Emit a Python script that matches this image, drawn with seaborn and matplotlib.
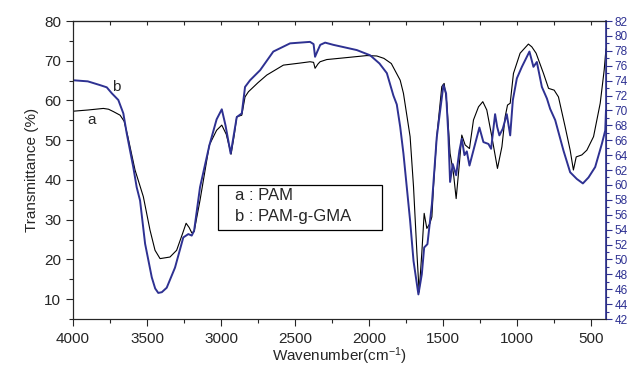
import matplotlib
matplotlib.use('Agg')
import matplotlib.pyplot as plt
import numpy as np
import pandas as pd
import seaborn as sns
from matplotlib.patches import Rectangle
from matplotlib.ticker import MultipleLocator

# data
# curve a: PAM (left axis)
wn_a = [4000, 3900, 3795, 3760, 3727, 3682, 3655, 3630, 3581, 3525, 3480, 3446,
        3412, 3345, 3300, 3260, 3236, 3215, 3198, 3182, 3142, 3079, 3030, 2995,
        2965, 2932, 2910, 2894, 2860, 2838, 2815, 2750, 2691, 2579, 2470, 2399,
        2375, 2365, 2345, 2331, 2286, 2150, 2016, 1948, 1900, 1850, 1790, 1768,
        1723, 1700, 1677, 1662, 1644, 1628, 1610, 1590, 1576, 1565, 1543, 1509,
        1493, 1475, 1453, 1430, 1412, 1390, 1374, 1351, 1322, 1295, 1261, 1232,
        1205, 1171, 1133, 1103, 1081, 1065, 1047, 1025, 980, 924, 901, 872, 822,
        788, 750, 721, 676, 642, 620, 601, 563, 529, 484, 439, 412, 400]
t_a = [57.3, 57.6, 58.0, 57.8, 57.2, 56.3, 54.8, 51.0, 42.5, 35.8, 27.4, 22.3,
       20.2, 20.6, 22.3, 26.5, 29.1, 28.0, 26.7, 27.0, 34.9, 48.8, 52.5, 53.8,
       51.5, 46.5, 51.5, 55.9, 56.3, 60.9, 62.2, 64.5, 66.4, 68.9, 69.4, 69.75,
       69.6, 68.1, 69.2, 69.75, 70.3, 70.8, 71.3, 71.2, 70.6, 69.3, 65.1, 61.8,
       50.9, 38.3, 21.6, 11.8, 21.6, 31.6, 27.8, 29.0, 30.7, 38.3, 50.9, 63.5,
       64.3, 59.3, 46.7, 41.6, 35.3, 44.2, 51.3, 48.8, 47.9, 55.1, 58.4, 59.7,
       57.6, 50.9, 42.9, 48.35, 55.9, 58.85, 59.3, 66.8, 71.9, 74.2, 73.5, 71.9, 66.8,
       63.05, 62.6, 60.9, 53.4, 47.5, 42.5, 45.8, 46.3, 47.5, 50.9, 59.3, 67.7, 73.0]

# curve b: PAM-g-GMA (right axis)
wn_b = [4000, 3900, 3818, 3772, 3738, 3694, 3660, 3637, 3593, 3570, 3547, 3513,
        3468, 3445, 3424, 3400, 3367, 3311, 3255, 3221, 3198, 3182, 3142, 3079,
        3030, 2995, 2970, 2935, 2894, 2860, 2838, 2804, 2736, 2647, 2534, 2399,
        2375, 2365, 2350, 2330, 2297, 2241, 2083, 1993, 1930, 1880, 1836, 1813,
        1790, 1768, 1723, 1700, 1667, 1644, 1628, 1606, 1576, 1543, 1498, 1480,
        1464, 1453, 1435, 1412, 1390, 1374, 1356, 1340, 1322, 1284, 1255, 1228,
        1194, 1176, 1149, 1135, 1120, 1097, 1070, 1047, 1029, 1002, 968, 917, 890,
        867, 833, 799, 777, 743, 687, 642, 597, 556, 518, 473, 428, 405, 400]
t_b = [74.05, 73.9, 73.4, 73.1, 72.3, 71.4, 69.6, 66.9, 62.4, 59.7, 57.9, 52.1,
       47.6, 46.1, 45.5, 45.6, 46.2, 48.9, 52.95, 53.4, 53.2, 53.85, 59.7, 65.3,
       68.8, 70.15, 68.0, 64.2, 69.1, 69.6, 73.15, 74.05, 75.4, 77.9, 79.0, 79.2,
       78.9, 77.2, 77.9, 78.8, 79.1, 78.8, 78.1, 77.4, 76.3, 75.0, 72.0, 70.8,
       67.8, 64.2, 55.2, 49.8, 45.3, 48.0, 51.6, 52.05, 57.4, 66.4, 73.4, 72.3,
       66.4, 60.4, 62.8, 61.3, 64.6, 66.2, 64.0, 64.5, 62.6, 65.5, 67.7, 65.75,
       65.5, 64.85, 69.5, 67.8, 66.65, 67.55, 69.5, 66.65, 71.4, 74.3, 75.85, 77.9, 75.85,
       76.5, 73.15, 71.6, 70.2, 68.7, 64.6, 61.7, 60.8, 60.2, 61.0, 62.4, 65.5, 67.3, 70.0]

legend_lines = ['a : PAM', 'b : PAM-g-GMA']

df_a = pd.DataFrame({'Wavenumber': wn_a, 'T': t_a})
df_b = pd.DataFrame({'Wavenumber': wn_b, 'T': t_b})

sns.set_style('ticks')
plt.rcParams['font.family'] = ['Liberation Sans', 'DejaVu Sans']
plt.rcParams['mathtext.fontset'] = 'custom'
plt.rcParams['mathtext.rm'] = 'Liberation Sans'
plt.rcParams['mathtext.it'] = 'Liberation Sans'

blue = '#2e3192'

fig = plt.figure(figsize=(6.37, 3.70), dpi=100)
ax = fig.add_axes([0.1146, 0.1378, 0.8367, 0.8054])
ax2 = ax.twinx()

sns.lineplot(data=df_a, x='Wavenumber', y='T', ax=ax, color='black', lw=0.8, estimator=None)
sns.lineplot(data=df_b, x='Wavenumber', y='T', ax=ax2, color=blue, lw=1.4, estimator=None)

ax.set_xlim(4000, 400)
ax.set_ylim(5, 80)
ax2.set_ylim(42, 82)

ax.xaxis.set_major_locator(MultipleLocator(500))
ax.xaxis.set_minor_locator(MultipleLocator(250))
ax.yaxis.set_major_locator(MultipleLocator(10))
ax.yaxis.set_minor_locator(MultipleLocator(5))
ax2.yaxis.set_major_locator(MultipleLocator(2))
ax2.yaxis.set_minor_locator(MultipleLocator(1))

ax.tick_params(axis='x', which='both', direction='out', top=False, labelsize=11, width=0.8, pad=4)
ax.tick_params(axis='x', which='major', length=5)
ax.tick_params(axis='x', which='minor', length=3)
ax.tick_params(axis='y', which='major', direction='out', length=5, labelsize=11, width=0.8)
ax.tick_params(axis='y', which='minor', direction='out', length=3, width=0.8)
ax2.tick_params(axis='y', which='major', direction='out', length=4, colors=blue, labelsize=8.5, width=0.8, pad=2)
ax2.tick_params(axis='y', which='minor', direction='out', length=2.5, color=blue, width=0.8)
ax2.spines['right'].set_color(blue)
ax2.spines['right'].set_linewidth(1.2)

# top ticks point inward
top = ax.secondary_xaxis('top')
top.xaxis.set_major_locator(MultipleLocator(250))
top.tick_params(axis='x', direction='in', length=3, width=0.8, labeltop=False)

ax.set_xlabel(r'Wavenumber(cm$^{-1}$)', fontsize=11, labelpad=0)
ax.set_ylabel('Transmittance (%)', fontsize=11)
ax2.set_ylabel('')

# curve labels
ax.text(3705, 63.5, 'b', fontsize=11, ha='center', va='center')
ax.text(3874, 55.2, 'a', fontsize=11, ha='center', va='center')

# legend box
ax.add_patch(Rectangle((0.272, 0.2987), 0.3077, 0.151, transform=ax.transAxes,
                       facecolor='white', edgecolor='black', lw=0.9, zorder=5))
ax.text(0.304, 0.414, legend_lines[0], transform=ax.transAxes, fontsize=12,
        ha='left', va='center', zorder=6)
ax.text(0.304, 0.343, legend_lines[1], transform=ax.transAxes, fontsize=12,
        ha='left', va='center', zorder=6)

fig.savefig('out.png', dpi=100)
